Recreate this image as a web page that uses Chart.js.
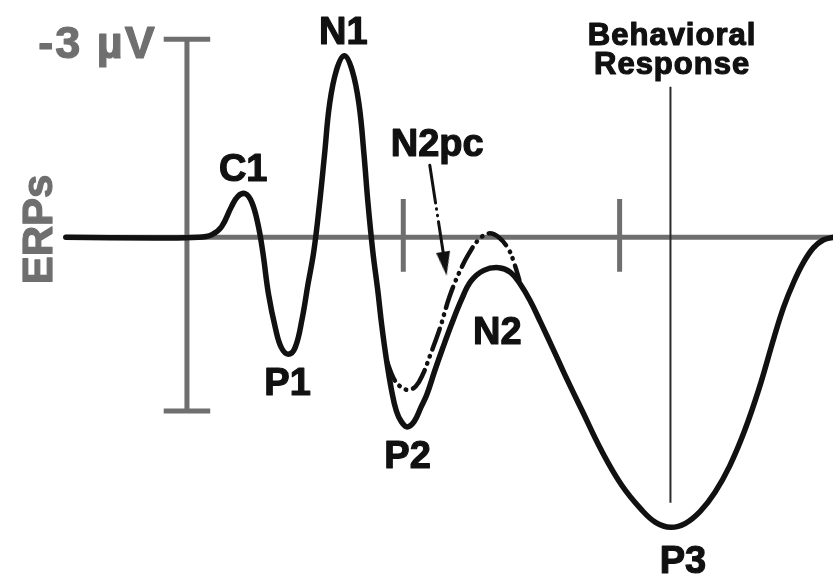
<!DOCTYPE html>
<html>
<head>
<meta charset="utf-8">
<script src="https://cdn.jsdelivr.net/npm/chart.js@4.4.1/dist/chart.umd.min.js"></script>
<style>
  html, body { margin: 0; padding: 0; background: #ffffff; }
  canvas { display: block; }
</style>
</head>
<body>
<canvas id="erp" width="840" height="584"></canvas>
<script>
// Idealised ERP waveform: time in ms after stimulus onset, amplitude in µV (negative up)
const waveTimes = [
  -112, -30, 11, 23, 32, 41, 47, 54, 60, 65.5,
  70, 75.5, 82, 87.3, 93.6, 100, 106.4, 111.8, 117.3, 122.7,
  127.3, 131.8, 138.2, 145.5, 152.7, 159.1, 163.6, 167.3, 171.8, 176.4,
  180, 184.5, 189.1, 193.6, 198.2, 203.6, 210, 216.4, 221.8, 229.1,
  236.4, 244.5, 253.6, 262.7, 274.5, 288.2, 299.1, 308.2, 317.3, 327.3,
  338.2, 349.1, 365.5, 383.6, 401.8, 420, 433.6, 447.3, 460.9, 474.5,
  488.2, 501.8, 515.5, 529.1, 542.7, 551.8, 560.9, 570, 579.1, 588.2, 597.3
];
const waveAmps = [
  0, 0.01, 0, -0.04, -0.16, -0.46, -0.62, -0.66, -0.53, -0.21,
  0.21, 0.87, 1.39, 1.67, 1.77, 1.67, 1.24, 0.72, 0.21, -0.53,
  -1.27, -2.01, -2.53, -2.75, -2.53, -2.01, -1.27, -0.53, 0.21, 0.80,
  1.32, 1.86, 2.31, 2.63, 2.79, 2.87, 2.79, 2.57, 2.38, 2.02,
  1.68, 1.32, 0.95, 0.66, 0.50, 0.46, 0.53, 0.71, 0.96, 1.30,
  1.68, 2.07, 2.63, 3.24, 3.75, 4.12, 4.32, 4.39, 4.33, 4.15,
  3.86, 3.46, 2.93, 2.28, 1.52, 1.05, 0.68, 0.38, 0.16, 0.04, 0
];

// Contralateral waveform showing the N2pc deflection
const n2pcTimes = [184.5, 190.9, 197.3, 204.5, 211.8, 218.2, 224.5, 233.6, 242.7, 251.8, 260.9, 270, 279.1, 288.2, 297.3, 302.7, 307.3];
const n2pcAmps  = [1.86, 2.13, 2.26, 2.31, 2.25, 2.07, 1.80, 1.39, 0.90, 0.53, 0.24, 0.03, -0.06, 0, 0.18, 0.40, 0.65];

// Axis furniture
const baselineSpan = [-112, 597.3];
const tickTimes = [200, 400];
const calibrationAmps = [-3, 2.63];
const responseTime = 447;
const responseSpan = [-2.28, 4.02];

// Component labels (anchor = text centre, alphabetic baseline)
const peakLabels = [
  { text: 'N1', t: 144.5, v: -2.93 },
  { text: 'C1', t: 52, v: -0.86 },
  { text: 'P1', t: 93, v: 2.38 },
  { text: 'P2', t: 204, v: 3.49 },
  { text: 'N2', t: 287, v: 1.61 },
  { text: 'P3', t: 458.6, v: 5.08 },
  { text: 'N2pc', t: 231.4, v: -1.23 }
];
const responseLabel = ['Behavioral', 'Response'];

// Arrow pointing from the N2pc label to the dashed deflection
const arrowTimes = [224.5, 237.3];
const arrowAmps = [-1.09, 0.27];
const arrowTip = { t: 238.4, v: 0.40 };

const pts = (ts, vs) => ts.map((t, i) => ({ x: t, y: vs[i] }));

const INK = '#111111';
const AXIS = '#6f6f6f';

// Narrow arrowhead used as a point style
const head = document.createElement('canvas');
head.width = 14; head.height = 24;
{
  const c = head.getContext('2d');
  c.fillStyle = INK;
  c.beginPath();
  c.moveTo(7, 0); c.lineTo(14, 24); c.lineTo(0, 24); c.closePath();
  c.fill();
}

const X_MIN = -166.36, X_MAX = 597.27;
const Y_MIN = -3.4875, Y_MAX = 5.1429;

const straight = (data, color, width, extra) => Object.assign({
  data, borderColor: color, borderWidth: width, pointRadius: 0, tension: 0,
  borderCapStyle: 'butt', fill: false
}, extra || {});

const datasets = [
  Object.assign(straight(pts(waveTimes, waveAmps), INK, 5.5), {
    tension: 0.4, borderCapStyle: 'round', borderJoinStyle: 'round', order: 0
  }),
  Object.assign(straight(pts(n2pcTimes, n2pcAmps), INK, 4.5), {
    tension: 0.4, borderDash: [22, 7, 0.5, 7, 0.5, 7], borderCapStyle: 'round', order: 1
  }),
  Object.assign(straight(pts(arrowTimes, arrowAmps), INK, 3), {
    borderDash: [38, 6, 0.5, 6, 0.5, 6], borderCapStyle: 'round', order: 2
  }),
  {
    data: [{ x: arrowTip.t, y: arrowTip.v }], showLine: false,
    pointStyle: head, pointRadius: 6, pointRotation: 171.4, order: 3
  },
  Object.assign(straight([{ x: responseTime, y: responseSpan[0] }, { x: responseTime, y: responseSpan[1] }], '#2b2b2b', 2), { order: 4 }),
  Object.assign(straight([{ x: baselineSpan[0], y: 0 }, { x: baselineSpan[1], y: 0 }], AXIS, 5), { order: 5 }),
  Object.assign(straight([{ x: 0, y: calibrationAmps[0] }, { x: 0, y: calibrationAmps[1] }], AXIS, 5), { order: 6 }),
  Object.assign(straight([{ x: -21.5, y: calibrationAmps[0] }, { x: 21.5, y: calibrationAmps[0] }], AXIS, 5), { order: 7 }),
  Object.assign(straight([{ x: -21.5, y: calibrationAmps[1] }, { x: 21.5, y: calibrationAmps[1] }], AXIS, 5), { order: 8 })
];
tickTimes.forEach((t, i) => {
  datasets.push(Object.assign(straight([{ x: t, y: -0.58 }, { x: t, y: 0.52 }], AXIS, 5), { order: 9 + i }));
});

// Heavy text: fill plus a thin outline in the same colour
function heavyText(ctx, text, x, y) {
  ctx.fillText(text, x, y);
  ctx.strokeText(text, x, y);
}

const textLayer = {
  id: 'textLayer',
  afterDatasetsDraw(chart) {
    const { ctx } = chart;
    const sx = chart.scales.x, sy = chart.scales.y;
    ctx.save();
    ctx.textBaseline = 'alphabetic';
    ctx.lineJoin = 'round';
    ctx.lineWidth = 1.2;

    // component names
    ctx.fillStyle = INK;
    ctx.strokeStyle = INK;
    ctx.font = 'bold 38px "Liberation Sans", Arial, sans-serif';
    ctx.textAlign = 'center';
    peakLabels.forEach(l => heavyText(ctx, l.text, sx.getPixelForValue(l.t), sy.getPixelForValue(l.v)));

    // response marker label
    ctx.font = 'bold 31px "Liberation Sans", Arial, sans-serif';
    ctx.letterSpacing = '1px';
    const rx = sx.getPixelForValue(responseTime + 1.5);
    heavyText(ctx, responseLabel[0], rx, sy.getPixelForValue(-2.91));
    heavyText(ctx, responseLabel[1], rx, sy.getPixelForValue(-2.48));

    // calibration label
    ctx.fillStyle = AXIS;
    ctx.strokeStyle = AXIS;
    ctx.font = 'bold 45px "Liberation Sans", Arial, sans-serif';
    ctx.letterSpacing = '2px';
    ctx.textAlign = 'right';
    heavyText(ctx, '-3 µV', sx.getPixelForValue(-28), sy.getPixelForValue(-2.72));

    // vertical axis title
    ctx.letterSpacing = '0px';
    ctx.font = 'bold 42px "Liberation Sans", Arial, sans-serif';
    ctx.textAlign = 'center';
    ctx.translate(sx.getPixelForValue(-138.2), sy.getPixelForValue(-0.12));
    ctx.rotate(-Math.PI / 2);
    heavyText(ctx, 'ERPs', 0, 15);
    ctx.restore();
  }
};

new Chart(document.getElementById('erp'), {
  type: 'line',
  data: { datasets },
  options: {
    responsive: false,
    animation: false,
    events: [],
    layout: { padding: 0 },
    plugins: { legend: { display: false }, tooltip: { enabled: false } },
    scales: {
      x: { type: 'linear', display: false, min: X_MIN, max: X_MAX },
      y: { type: 'linear', display: false, reverse: true, min: Y_MIN, max: Y_MAX, beginAtZero: false }
    }
  },
  plugins: [textLayer]
});
</script>
</body>
</html>
